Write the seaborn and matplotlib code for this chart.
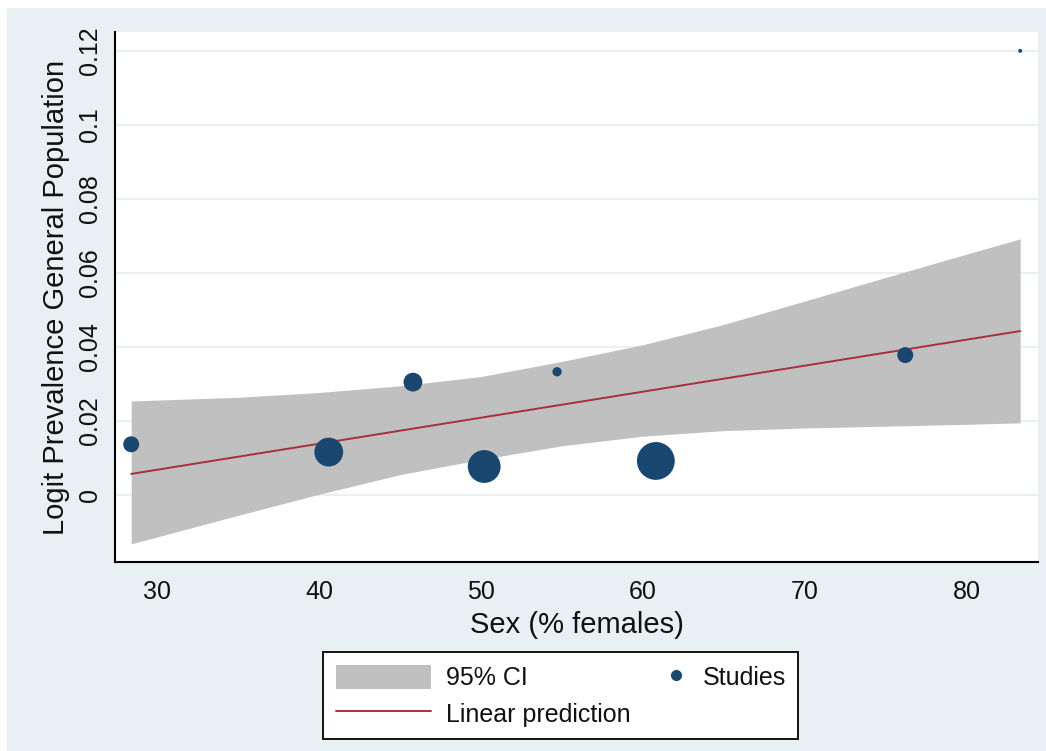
import matplotlib
matplotlib.use("Agg")
import matplotlib.pyplot as plt
import matplotlib.patches as mpatches
from matplotlib.lines import Line2D
from matplotlib.legend_handler import HandlerLine2D
import seaborn as sns
import pandas as pd

# ---- data ----
pct_female = [28.4, 40.6, 45.8, 50.2, 54.7, 60.8, 76.2, 83.3]
logit_prev = [0.0137, 0.0116, 0.0305, 0.0077, 0.0333, 0.0092, 0.0378, 0.1200]
study_weight = [2.3, 7.5, 3.2, 9.7, 0.78, 12.9, 2.3, 0.14]

fit_x = [28.4, 83.3]
fit_y = [0.0057, 0.0443]

ci_x = [28.4, 35, 40, 45, 50, 55, 60, 65, 70, 75, 80, 83.3]
ci_lower = [-0.0132, -0.0055, 0.0002, 0.0055, 0.0096, 0.0133, 0.0159, 0.0174, 0.0181, 0.0186, 0.0191, 0.0195]
ci_upper = [0.0254, 0.0264, 0.0277, 0.0295, 0.0320, 0.0361, 0.0406, 0.0461, 0.0524, 0.0588, 0.0651, 0.0692]

x_ticks = [30, 40, 50, 60, 70, 80]
y_ticks = [0, 0.02, 0.04, 0.06, 0.08, 0.10, 0.12]
y_tick_labels = ["0", "0.02", "0.04", "0.06", "0.08", "0.1", "0.12"]

x_label = "Sex (% females)"
y_label = "Logit Prevalence General Population"
legend_labels = ["95% CI", "Linear prediction", "Studies"]

# ---- style ----
sns.set_style("white")
plt.rcParams["font.family"] = ["Liberation Sans", "DejaVu Sans"]

NAVY = "#1a476f"
RED = "#a8303e"
CI_GRAY = "#c0c0c0"
BG = "#e9f0f3"
GRID = "#eaf1f3"

W, H = 1046, 751
fig = plt.figure(figsize=(W / 100, H / 100), dpi=100, facecolor="white")
fig.patches.append(mpatches.Rectangle((7 / W, 0), 1, 1 - 7.5 / H,
                                      transform=fig.transFigure,
                                      facecolor=BG, edgecolor="none", zorder=-10))

ax = fig.add_axes([115 / W, 1 - 562 / H, 923 / W, 530 / H])
ax.set_facecolor("white")

ax.fill_between(ci_x, ci_lower, ci_upper, color=CI_GRAY, linewidth=0, zorder=1)
sns.lineplot(x=fit_x, y=fit_y, ax=ax, color=RED, linewidth=1.4, zorder=2)

df = pd.DataFrame({"x": pct_female, "y": logit_prev, "w": study_weight})
sns.scatterplot(data=df, x="x", y="y", size="w", sizes=(8, 742),
                size_norm=(0.14, 12.9), color=NAVY, linewidth=0,
                legend=False, ax=ax, zorder=3)

ax.set_xlim(27.4, 84.4)
ax.set_ylim(-0.0181, 0.1251)
ax.set_xticks(x_ticks)
ax.set_xticklabels([str(t) for t in x_ticks])
ax.set_yticks(y_ticks)
ax.set_yticklabels(y_tick_labels, rotation=90, va="center")

ax.yaxis.grid(True, color=GRID, linewidth=1.5)
ax.xaxis.grid(False)
ax.set_axisbelow(True)

for s in ["top", "right"]:
    ax.spines[s].set_visible(False)
for s in ["left", "bottom"]:
    ax.spines[s].set_color("black")
    ax.spines[s].set_linewidth(1.5)

ax.tick_params(axis="both", direction="out", length=7, width=1.2,
               color="black", labelsize=18, labelcolor="#111111")
ax.tick_params(axis="x", pad=6)
ax.tick_params(axis="y", pad=2)

ax.set_xlabel(x_label, fontsize=21, color="#111111", labelpad=5)
ax.set_ylabel(y_label, fontsize=21, color="#111111", labelpad=6)


class RightMarkerHandler(HandlerLine2D):
    def get_xdata(self, legend, xdescent, ydescent, width, height, fontsize):
        xdata = [-xdescent + 0.78 * width, -xdescent + 0.98 * width]
        xdata_marker = [-xdescent + 0.88 * width]
        return xdata, xdata_marker


h_ci = mpatches.Patch(facecolor=CI_GRAY, edgecolor="none")
h_line = Line2D([], [], color=RED, linewidth=1.4)
h_pts = Line2D([], [], color=NAVY, marker="o", linestyle="none", markersize=7)

leg = fig.legend([h_ci, h_line, h_pts], legend_labels,
                 loc="upper left", bbox_to_anchor=(323 / W, 1 - 652 / H),
                 bbox_transform=fig.transFigure, borderaxespad=0,
                 ncol=2, fontsize=18, handlelength=3.8, handleheight=1.15,
                 handletextpad=0.6, columnspacing=-1.5, labelspacing=0.42,
                 borderpad=0.5, frameon=True, fancybox=False,
                 edgecolor="black", facecolor="white", framealpha=1,
                 handler_map={h_pts: RightMarkerHandler()})
leg.get_frame().set_linewidth(1.3)
for t in leg.get_texts():
    t.set_color("#111111")

fig.savefig("out.png", dpi=100, facecolor="white")
